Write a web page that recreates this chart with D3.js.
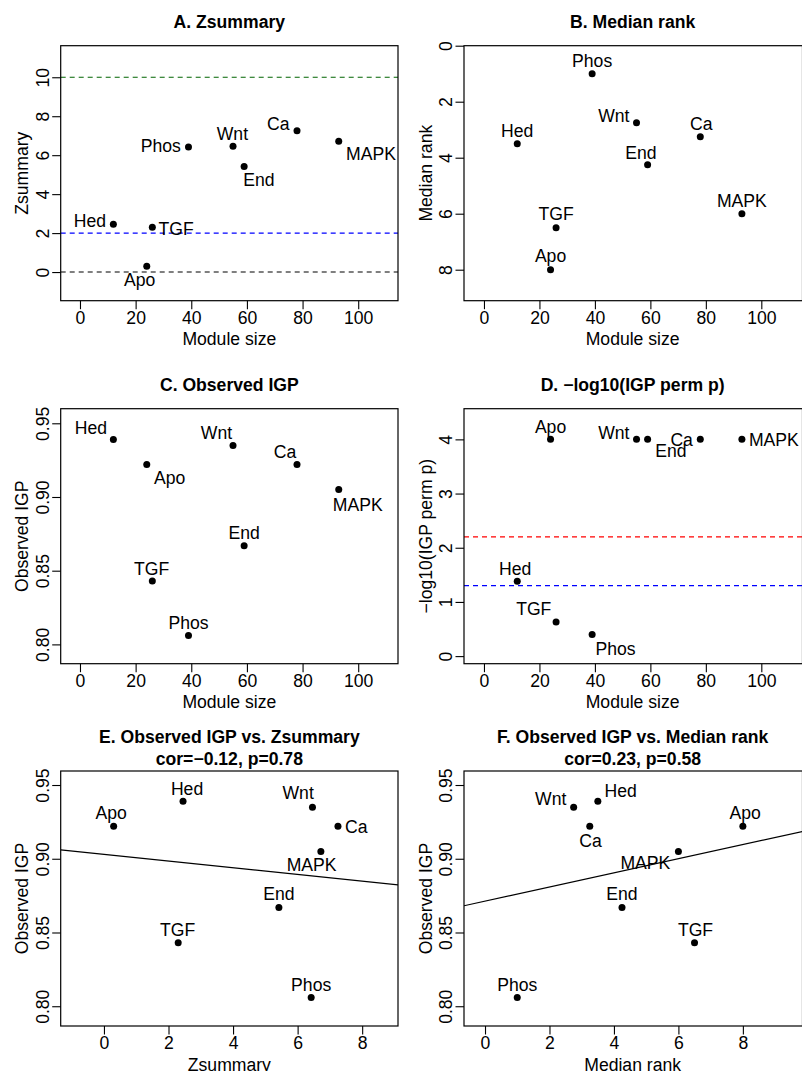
<!DOCTYPE html>
<html><head><meta charset="utf-8">
<script src="https://cdn.jsdelivr.net/npm/d3@7"></script>
<style>body{margin:0;background:#fff}svg{display:block}text{font-family:"Liberation Sans",Arial,Helvetica,sans-serif;fill:#000}</style>
</head><body><svg id="c" width="802" height="1071"></svg>
<script>
// ---- data ----
const modules     = ["Hed","Apo","TGF","Phos","Wnt","End","Ca","MAPK"];
const moduleSize  = [12, 24, 26, 39, 55, 59, 78, 93];
const zsummary    = [2.45, 0.3, 2.3, 6.42, 6.46, 5.42, 7.25, 6.72];
const medianRank  = [3.5, 8, 6.5, 1, 2.75, 4.25, 3.25, 6];
const observedIGP = [0.939, 0.922, 0.843, 0.806, 0.935, 0.867, 0.922, 0.905];
const negLog10P   = [1.38, 4, 0.63, 0.40, 4, 4, 4, 4];
const zThresholds = [0, 2, 10];
const pThresholds = [1.30, 2.20];
const sizeTicks = [0, 20, 40, 60, 80, 100];
const zTicks    = [0, 2, 4, 6, 8, 10];
const rankTicks = [0, 2, 4, 6, 8];
const igpTicks  = [0.80, 0.85, 0.90, 0.95];
const pTicks    = [0, 1, 2, 3, 4];
const zTicksX   = [0, 2, 4, 6, 8];

// ---- layout / style ----
const FS = 17.6;
const colX = [60.7, 464], colW = [337.3, 338.5];
const rowY = [45.7, 408.7, 771], boxH = 255;
const svg = d3.select("#c");
svg.append("rect").attr("width",802).attr("height",1071).attr("fill","#fff");

function lmFit(x, y){
  const mx=d3.mean(x), my=d3.mean(y);
  let sxy=0,sxx=0; x.forEach((v,i)=>{sxy+=(v-mx)*(y[i]-my); sxx+=(v-mx)*(v-mx);});
  const b=sxy/sxx; return {a: my-b*mx, b};
}

function panel(o){
  const L=colX[o.col], T=rowY[o.row], W=colW[o.col], H=boxH;
  const g=svg.append("g");
  const x=d3.scaleLinear().domain(o.xd).range([L,L+W]);
  const y=d3.scaleLinear().domain(o.yd).range([T+H,T]);
  const clipId="clip"+o.id;
  g.append("clipPath").attr("id",clipId).append("rect").attr("x",L).attr("y",T).attr("width",W).attr("height",H);
  // threshold lines
  (o.hlines||[]).forEach(h=>{
    g.append("line").attr("x1",L).attr("x2",L+W).attr("y1",y(h.v)).attr("y2",y(h.v))
     .attr("stroke",h.c).attr("stroke-width",1.1).attr("stroke-dasharray","5,4");
  });
  // regression
  if(o.fit){
    const f=lmFit(o.xs,o.ys);
    g.append("line").attr("clip-path",`url(#${clipId})`)
     .attr("x1",x(o.xd[0])).attr("y1",y(f.a+f.b*o.xd[0]))
     .attr("x2",x(o.xd[1])).attr("y2",y(f.a+f.b*o.xd[1]))
     .attr("stroke","#000").attr("stroke-width",1.2);
  }
  // box
  g.append("rect").attr("x",L).attr("y",T).attr("width",W).attr("height",H)
   .attr("fill","none").attr("stroke","#000").attr("stroke-width",1.2);
  // x axis
  const xa=d3.axisBottom(x).tickValues(o.xt).tickSize(8.5).tickFormat(d3.format("d"));
  const gx=g.append("g").attr("transform",`translate(0,${T+H})`).call(xa);
  gx.select(".domain").remove();
  gx.selectAll(".tick line").attr("stroke","#000").attr("stroke-width",1.1);
  gx.selectAll(".tick text").attr("font-size",FS).attr("y",23).attr("dy",null)
    .attr("font-family","Liberation Sans, Arial, sans-serif");
  // y axis
  const ya=d3.axisLeft(y).tickValues(o.yt).tickSize(8.5).tickFormat(o.yf||d3.format("d"));
  const gy=g.append("g").attr("transform",`translate(${L},0)`).call(ya);
  gy.select(".domain").remove();
  gy.selectAll(".tick line").attr("stroke","#000").attr("stroke-width",1.1);
  gy.selectAll(".tick text").attr("font-size",FS).attr("x",null).attr("dy",null)
    .attr("text-anchor","middle").attr("transform","translate(-11.8,0) rotate(-90)")
    .attr("font-family","Liberation Sans, Arial, sans-serif");
  // axis titles
  g.append("text").attr("x",L+W/2 - (o.col===1? (W-337.3)/2:0)).attr("y",T+H+44.7).attr("text-anchor","middle")
   .attr("font-size",FS).text(o.xlab);
  g.append("text").attr("transform",`translate(${L-32.3},${T+H/2}) rotate(-90)`).attr("text-anchor","middle")
   .attr("font-size",FS).text(o.ylab);
  // title
  const cx=L+337.3/2;
  o.title.forEach((t,i)=>{
    g.append("text").attr("x",cx).attr("y",T-o.titleOff[i]).attr("text-anchor","middle")
     .attr("font-size",FS).attr("font-weight","bold").text(t);
  });
  // points
  g.selectAll("circle.pt").data(modules).join("circle").attr("class","pt")
   .attr("cx",(d,i)=>x(o.xs[i])).attr("cy",(d,i)=>y(o.ys[i])).attr("r",3.5).attr("fill","#000");
  // labels
  g.selectAll("text.lb").data(modules).join("text").attr("class","lb")
   .attr("font-size",FS)
   .attr("text-anchor",(d,i)=>o.lab[d][0])
   .attr("x",(d,i)=>x(o.xs[i])+o.lab[d][1])
   .attr("y",(d,i)=>y(o.ys[i])+o.lab[d][2]+6.2)
   .text(d=>d);
}

const S="start",E="end",M="middle";
panel({id:"A",row:0,col:0,xd:[-6.93,114.3],yd:[-1.47,11.62],xt:sizeTicks,yt:zTicks,
  xs:moduleSize,ys:zsummary,xlab:"Module size",ylab:"Zsummary",title:["A. Zsummary"],titleOff:[17.4],
  hlines:[{v:zThresholds[0],c:"#000"},{v:zThresholds[1],c:"#0000ff"},{v:zThresholds[2],c:"#006400"}],
  lab:{Hed:[E,-7.3,-3.6],Apo:[M,-7.2,13.8],TGF:[S,6.3,1.3],Phos:[E,-7.7,-1.3],Wnt:[M,-0.6,-12.6],
       End:[M,14.8,13.6],Ca:[E,-7.4,-7],MAPK:[S,7.3,12.7]}});

panel({id:"B",row:0,col:1,xd:[-7.2,114.85],yd:[9.107,0],xt:sizeTicks,yt:rankTicks,
  xs:moduleSize,ys:medianRank,xlab:"Module size",ylab:"Median rank",title:["B. Median rank"],titleOff:[17.4],
  lab:{Hed:[M,0,-12.7],Apo:[M,0,-13.8],TGF:[M,0,-13.6],Phos:[M,0,-13],Wnt:[E,-7,-6.7],
       End:[M,-6.7,-12.4],Ca:[M,1,-12.7],MAPK:[M,0,-13.3]}});

panel({id:"C",row:1,col:0,xd:[-6.93,114.3],yd:[0.7869,0.9599],xt:sizeTicks,yt:igpTicks,yf:d3.format(".2f"),
  xs:moduleSize,ys:observedIGP,xlab:"Module size",ylab:"Observed IGP",title:["C. Observed IGP"],titleOff:[18],
  lab:{Hed:[M,-22.5,-12],Apo:[M,23,13],TGF:[M,-0.7,-12.7],Phos:[M,0,-12.6],Wnt:[M,-16.5,-13],
       End:[M,0,-13],Ca:[M,-12,-13],MAPK:[M,19,14.7]}});

panel({id:"D",row:1,col:1,xd:[-7.2,114.85],yd:[-0.14,4.566],xt:sizeTicks,yt:pTicks,
  xs:moduleSize,ys:negLog10P,xlab:"Module size",ylab:"\u2212log10(IGP perm p)",title:["D. \u2212log10(IGP perm p)"],titleOff:[18],
  hlines:[{v:pThresholds[0],c:"#0000ff"},{v:pThresholds[1],c:"#ff0000"}],
  lab:{Hed:[M,-2,-12.7],Apo:[M,0,-13],TGF:[M,-22.3,-13.3],Phos:[M,23.4,14.7],Wnt:[E,-7,-7],
       End:[M,23.3,11.4],Ca:[E,-7.4,0],MAPK:[S,7,0]}});

panel({id:"E",row:2,col:0,xd:[-1.34,9.11],yd:[0.7866,0.9595],xt:zTicksX,yt:igpTicks,yf:d3.format(".2f"),
  xs:zsummary,ys:observedIGP,xlab:"Zsummary",ylab:"Observed IGP",fit:true,
  title:["E. Observed IGP vs. Zsummary","cor=\u22120.12, p=0.78"],titleOff:[27.7,6],
  lab:{Hed:[M,4,-12.4],Apo:[M,-2.5,-13.4],TGF:[M,-0.6,-13.3],Phos:[M,0,-12.7],Wnt:[M,-14.3,-14],
       End:[M,0,-14],Ca:[S,7,0],MAPK:[M,-9.2,13.3]}});

panel({id:"F",row:2,col:1,xd:[-0.652,9.85],yd:[0.7866,0.9595],xt:zTicksX,yt:igpTicks,yf:d3.format(".2f"),
  xs:medianRank,ys:observedIGP,xlab:"Median rank",ylab:"Observed IGP",fit:true,
  title:["F. Observed IGP vs. Median rank","cor=0.23, p=0.58"],titleOff:[27.7,6],
  lab:{Hed:[S,6.7,-10.4],Apo:[M,2.2,-13.4],TGF:[M,1,-13.3],Phos:[M,0,-12.7],Wnt:[E,-7.3,-8],
       End:[M,0,-14],Ca:[M,0.8,14],MAPK:[M,-33,11.7]}});
</script></body></html>
